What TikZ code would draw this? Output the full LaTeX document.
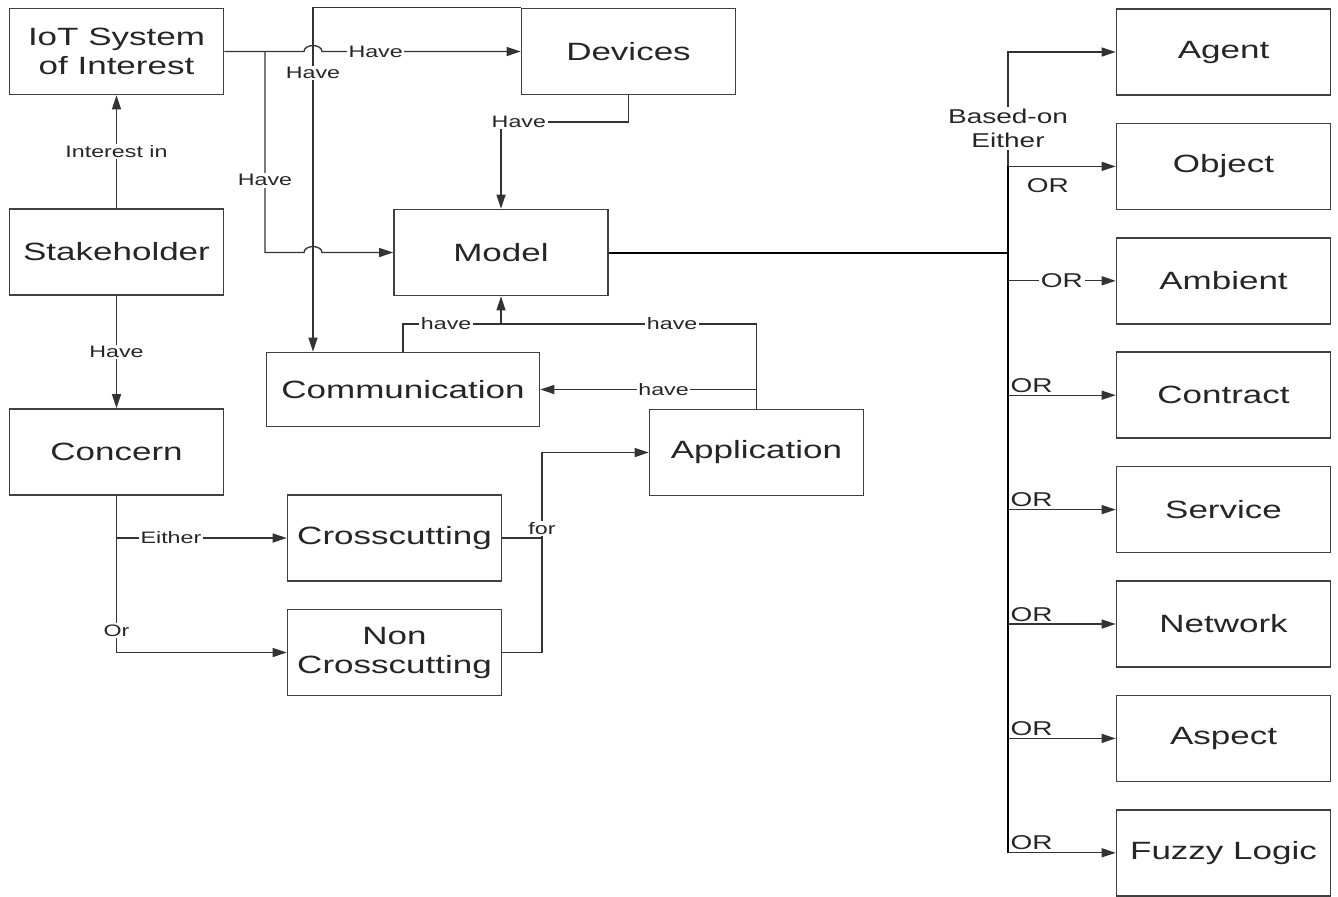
\documentclass[tikz,border=0pt]{standalone}
\usepackage{fontspec}
\setmainfont{Liberation Sans}[FakeStretch=1.4]
\usetikzlibrary{arrows.meta}
\colorlet{boxline}{black!75}
\colorlet{connector}{black!80}
\colorlet{labeltext}{black!85}
\tikzset{
  every node/.style={text=labeltext},
  hop/.style={x radius=4.5pt,y radius=3pt,start angle=180,end angle=0},
}

\begin{document}
\begin{tikzpicture}[
  x=0.5pt, y=-0.5pt,
  box/.style={draw=boxline, line width=0.8pt, minimum width=107pt, minimum height=43pt,
    inner sep=1pt, align=center, font=\fontsize{12.5}{14.5}\selectfont},
  conn/.style={draw=connector, line width=0.65pt},
  arr/.style={conn, -{Triangle[length=7pt,width=4.5pt]}},
  bus/.style={draw=black, line width=1pt},
  lbl/.style={fill=white, inner sep=0.8pt, font=\fontsize{8.3}{9.5}\selectfont},
  orlbl/.style={inner sep=1pt, font=\fontsize{10}{12}\selectfont},
]
\useasboundingbox (0,0) rectangle (1338,896);

\node[box] (iot) at (116.5,51.5) {IoT System\\of Interest};
\node[box] (dev) at (628.5,51.5) {Devices};
\node[box] (stake) at (116.5,252) {Stakeholder};
\node[box] (concern) at (116.5,452) {Concern};
\node[box] (model) at (501,252.5) {Model};
\node[box, minimum width=136.5pt, minimum height=37pt] (comm) at (403,389.5) {Communication};
\node[box] (cross) at (394.5,538) {Crosscutting};
\node[box] (noncross) at (394.5,652.5) {Non\\Crosscutting};
\node[box] (app) at (756.5,452.5) {Application};
\foreach \n/\t [count=\i from 0] in {agent/Agent, obj/Object, amb/Ambient, contract/Contract,
    serv/Service, net/Network, aspect/Aspect, fuzzy/Fuzzy Logic}
  \node[box] (\n) at (1223.5,{52+114.4*\i}) {\t};

\coordinate (vx) at (313,0);
\coordinate (br) at (265,0);
\coordinate (kdev) at (501,122);
\coordinate (jm) at (501,324);
\coordinate (ja) at (542,452.5);
\coordinate (bus) at (1008,0);

\draw[arr] (stake.north) -- node[lbl]{Interest in} (iot.south);
\draw[arr] (stake.south) -- node[lbl]{Have} (concern.north);
\draw[arr] (dev.north west) -| node[lbl, pos=0.595]{Have} (vx |- comm.north);
\draw[arr] (iot.east) -- ([xshift=-4.5pt]iot.east -| vx) arc[hop]
  -- node[lbl, pos=0.27]{Have} (dev.west);
\draw[arr] (iot.east -| br) -- node[lbl, pos=0.64]{Have} (br |- model.west)
  -- ([xshift=-4.5pt]model.west -| vx) arc[hop] -- (model.west);
\draw[arr] (dev.south) |- node[lbl, pos=0.93]{Have} (kdev) -- (model.north);

\draw[arr] (comm.north) |- node[lbl, pos=0.72]{have} (jm) -- (model.south);
\draw[conn] (app.north) |- node[lbl, pos=0.665]{have} (jm);
\draw[arr] (app.north |- comm.east) -- node[lbl, pos=0.43]{have} (comm.east);

\draw[arr] (concern.south) |- node[lbl, pos=0.66]{Either} (cross.west);
\draw[arr] (concern.south) |- node[lbl, pos=0.43]{Or} (noncross.west);
\draw[conn] (cross.east) -- (cross.east -| ja);
\draw[arr] (noncross.east) -| node[lbl, pos=0.81]{for} (ja) -- (app.west);

% model kinds
\draw[bus] (model.east) -- (model.east -| bus);
\draw[bus] (bus |- obj.west) -- (bus |- fuzzy.west);
\draw[arr] (bus |- obj.west) -- node[lbl, orlbl, fill=white, align=center, pos=0.33]{Based-on\\Either}
  (bus |- agent.west) -- (agent.west);
\draw[arr] (bus |- obj.west) -- node[orlbl, pos=0.37, below=4.5pt]{OR} (obj.west);
\draw[arr] (bus |- amb.west) -- node[orlbl, fill=white, pos=0.5]{OR} (amb.west);
\foreach \n in {contract, serv, net, aspect, fuzzy}
  \draw[arr] (bus |- \n.west) -- node[orlbl, pos=0, anchor=south west]{OR} (\n.west);
\end{tikzpicture}
\end{document}
